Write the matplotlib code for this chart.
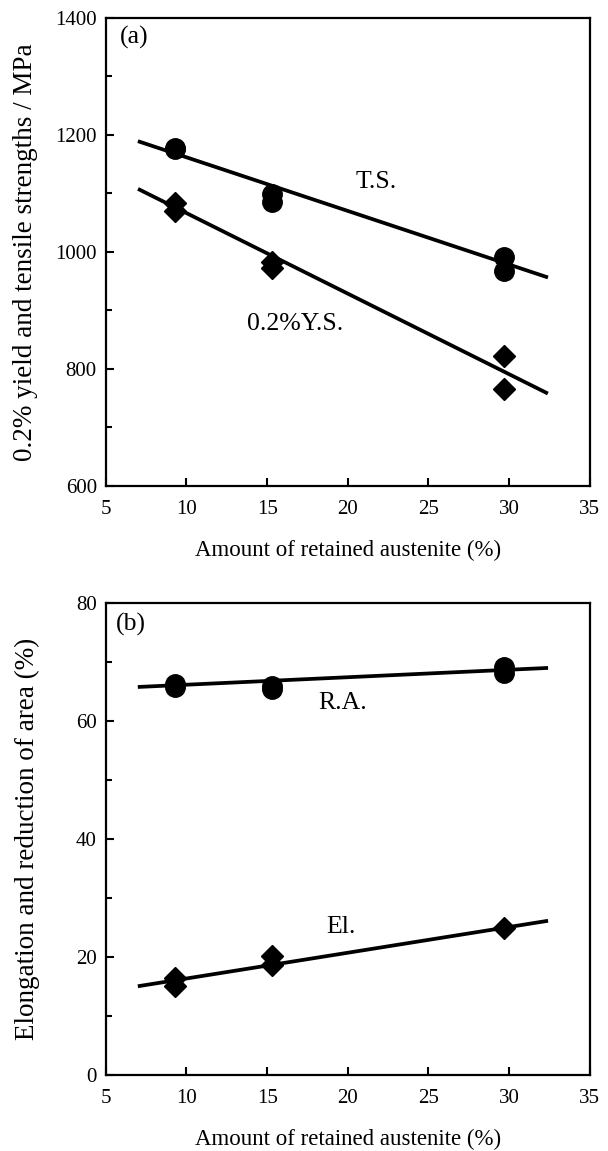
import matplotlib
matplotlib.use("Agg")
import matplotlib.pyplot as plt
from matplotlib.ticker import MultipleLocator

plt.rcParams["font.family"] = ["Liberation Serif", "DejaVu Serif"]

# (a) strengths
ts_x = [9.3, 9.3, 15.3, 15.3, 29.7, 29.7]
ts_y = [1178, 1175, 1098, 1085, 991, 967]
ys_x = [9.3, 9.3, 15.3, 15.3, 29.7, 29.7]
ys_y = [1083, 1070, 983, 973, 822, 766]
ts_fit_x = [7.1, 32.3]
ts_fit_y = [1188, 957]
ys_fit_x = [7.1, 32.3]
ys_fit_y = [1106, 759]

# (b) ductility
ra_x = [9.3, 9.3, 15.3, 15.3, 29.7, 29.7]
ra_y = [66.3, 65.7, 65.9, 65.4, 69.1, 68.1]
el_x = [9.3, 9.3, 15.3, 15.3, 29.7]
el_y = [16.4, 15.1, 20.2, 18.6, 24.9]
ra_fit_x = [7.1, 32.3]
ra_fit_y = [65.8, 69.0]
el_fit_x = [7.1, 32.3]
el_fit_y = [15.1, 26.1]

tick_fs = 15
label_fs = 16.5
ylabel_fs = 19.5
note_fs = 18.5

fig = plt.figure(figsize=(6.08, 11.51), dpi=100)
ax1 = fig.add_axes([0.174, 0.578, 0.796, 0.4066])
ax2 = fig.add_axes([0.174, 0.066, 0.796, 0.410])


def style(ax):
    for s in ax.spines.values():
        s.set_linewidth(1.6)
    ax.tick_params(which="both", direction="in", top=False, right=False,
                   labelsize=tick_fs, width=1.5)
    ax.tick_params(which="major", length=6)
    ax.tick_params(which="minor", length=4)
    ax.tick_params(axis="x", pad=10)
    ax.tick_params(axis="y", pad=6.5)
    ax.set_xlim(5, 35)
    ax.xaxis.set_major_locator(MultipleLocator(5))
    ax.set_xlabel("Amount of retained austenite (%)", fontsize=label_fs, labelpad=15)


ax1.plot(ts_fit_x, ts_fit_y, color="black", lw=2.7)
ax1.plot(ys_fit_x, ys_fit_y, color="black", lw=2.7)
ax1.plot(ts_x, ts_y, "o", color="black", ms=14)
ax1.plot(ys_x, ys_y, "D", color="black", ms=11.5)
ax1.set_ylim(600, 1400)
ax1.yaxis.set_major_locator(MultipleLocator(200))
ax1.yaxis.set_minor_locator(MultipleLocator(100))
ax1.set_ylabel("0.2% yield and tensile strengths / MPa", fontsize=ylabel_fs)
ax1.yaxis.set_label_coords(-0.141, 0.5)
ax1.text(21.75, 1120, "T.S.", fontsize=note_fs, ha="center", va="center")
ax1.text(16.75, 877, "0.2%Y.S.", fontsize=note_fs, ha="center", va="center")
ax1.text(5.85, 1366, "(a)", fontsize=note_fs, ha="left", va="center")
style(ax1)

ax2.plot(ra_fit_x, ra_fit_y, color="black", lw=2.7)
ax2.plot(el_fit_x, el_fit_y, color="black", lw=2.7)
ax2.plot(ra_x, ra_y, "o", color="black", ms=14)
ax2.plot(el_x, el_y, "D", color="black", ms=11.5)
ax2.set_ylim(0, 80)
ax2.yaxis.set_major_locator(MultipleLocator(20))
ax2.yaxis.set_minor_locator(MultipleLocator(10))
ax2.set_ylabel("Elongation and reduction of area (%)", fontsize=ylabel_fs)
ax2.yaxis.set_label_coords(-0.135, 0.5)
ax2.text(19.7, 63, "R.A.", fontsize=note_fs, ha="center", va="center")
ax2.text(19.6, 25.1, "El.", fontsize=note_fs, ha="center", va="center")
ax2.text(5.6, 76.3, "(b)", fontsize=note_fs, ha="left", va="center")
style(ax2)

fig.savefig("out.png", dpi=100)
